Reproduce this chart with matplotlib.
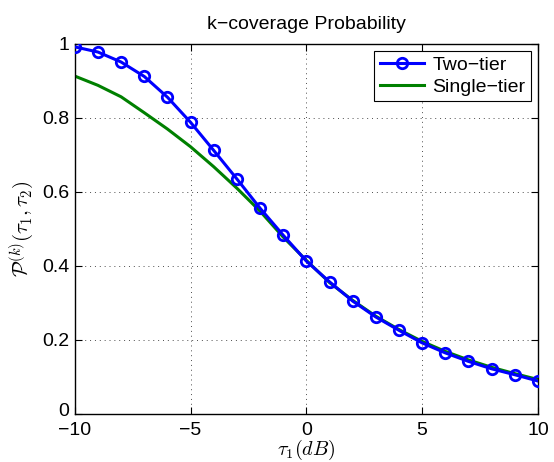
import numpy as np
import matplotlib
matplotlib.use('Agg')
import matplotlib.pyplot as plt
import matplotlib.ticker as ticker
import matplotlib.transforms as mtransforms

plt.rcParams['font.family'] = ['Liberation Sans', 'DejaVu Sans']
plt.rcParams['mathtext.fontset'] = 'cm'

tau1 = list(range(-10, 11))
two_tier = [0.992, 0.978, 0.951, 0.912, 0.856, 0.788, 0.712, 0.635, 0.556, 0.483, 0.413,
            0.357, 0.305, 0.262, 0.226, 0.192, 0.165, 0.142, 0.122, 0.106, 0.089]
single_tier = [0.913, 0.888, 0.857, 0.814, 0.770, 0.722, 0.668, 0.610, 0.548, 0.478, 0.415,
               0.355, 0.307, 0.264, 0.228, 0.196, 0.169, 0.146, 0.126, 0.109, 0.093]

fig = plt.figure(figsize=(5.54, 4.62), dpi=100)
ax = fig.add_axes([0.135, 0.104, 0.836, 0.801])

ax.plot(tau1, two_tier, color='#0000ff', lw=2.2, marker='o', ms=7.5,
        mfc='none', mew=2, label='Two\u2212tier', zorder=3)
ax.plot(tau1, single_tier, color='#008000', lw=2.2, label='Single\u2212tier', zorder=2)

ax.set_xlim(-10, 10)
ax.set_ylim(0, 1)
ax.set_xticks([-10, -5, 0, 5, 10])
ax.set_yticks([0, 0.2, 0.4, 0.6, 0.8, 1])
ax.yaxis.set_major_formatter(ticker.FuncFormatter(lambda v, p: '%g' % v))
ax.xaxis.set_major_formatter(ticker.FuncFormatter(lambda v, p: ('%g' % v).replace('-', '\u2212')))

ax.tick_params(direction='in', top=True, right=True, labelsize=14, length=5, width=0.8)
ax.tick_params(axis='x', pad=6)
ax.tick_params(axis='y', pad=4)
ax.grid(True, color='0.3', linestyle=(0, (1, 4)), lw=0.7)
for s in ax.spines.values():
    s.set_linewidth(1.0)

# nudge the y "0" label up a little so it sits above "-10" like the original
fig.canvas.draw()
lbl0 = ax.yaxis.get_majorticklabels()[0]
lbl0.set_transform(lbl0.get_transform() + mtransforms.ScaledTranslation(0, 4 / 100, fig.dpi_scale_trans))

ax.set_title('k\u2212coverage Probability', fontsize=14, pad=11)
ax.set_xlabel(r'$\tau_1(dB)$', fontsize=14.5, labelpad=-1)
ax.set_ylabel(r'$\mathcal{P}^{(k)}(\tau_1,\tau_2)$', fontsize=15, labelpad=4)

leg = ax.legend(loc='upper right', fontsize=14, fancybox=False, framealpha=1,
                edgecolor='k', borderpad=0.3, handlelength=2.3, handletextpad=0.4,
                labelspacing=0.2, borderaxespad=0.35)
leg.get_frame().set_linewidth(0.8)

fig.savefig('out.png', dpi=100)
